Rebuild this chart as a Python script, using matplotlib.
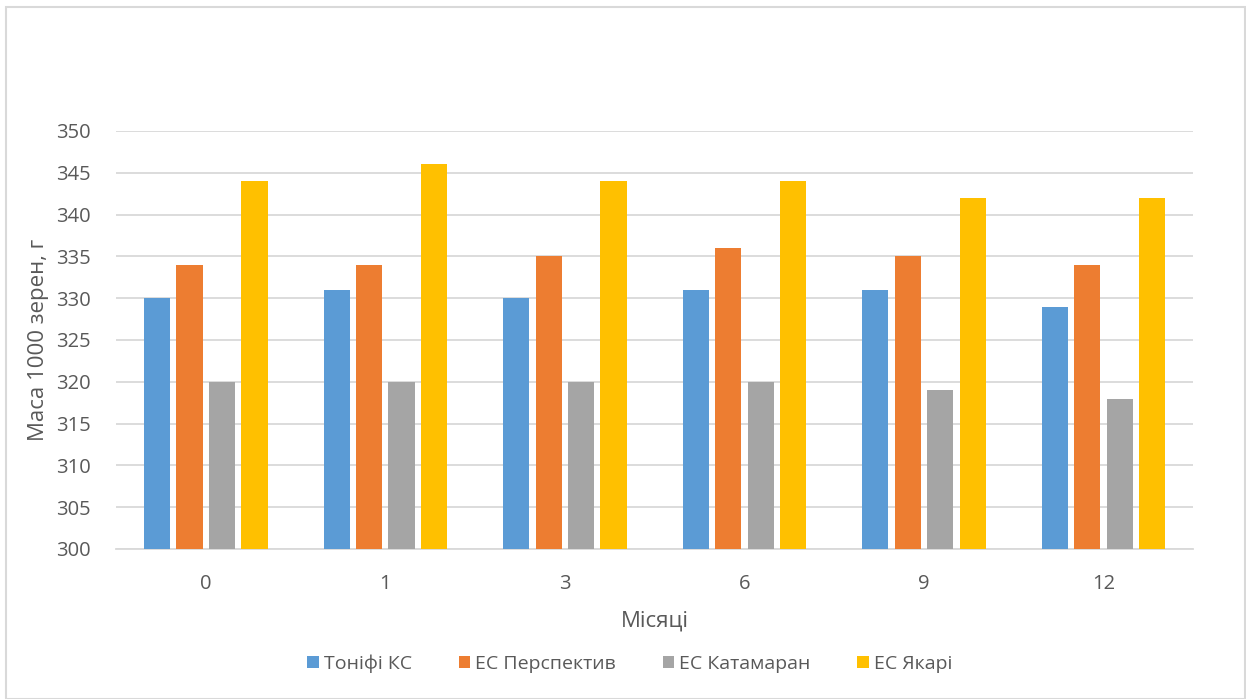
import matplotlib.pyplot as plt
import numpy as np
from matplotlib.patches import Rectangle

plt.rcParams['font.family'] = ['Open Sans', 'DejaVu Sans']

months = ['0', '1', '3', '6', '9', '12']
series_names = ['Тоніфі КС', 'ЕС Перспектив', 'ЕС Катамаран', 'ЕС Якарі']
tonifi = [330, 331, 330, 331, 331, 329]
perspektyv = [334, 334, 335, 336, 335, 334]
katamaran = [320, 320, 320, 320, 319, 318]
yakari = [344, 346, 344, 344, 342, 342]
colors = ['#5B9BD5', '#ED7D31', '#A5A5A5', '#FFC000']

text_color = '#595959'

fig = plt.figure(figsize=(12.46, 6.99), dpi=100)
ax = fig.add_axes([0.0931, 0.2146, 0.8644, 0.598])

x = np.arange(len(months))
step = 0.181
width = 0.145
for i, (vals, name, c) in enumerate(zip([tonifi, perspektyv, katamaran, yakari], series_names, colors)):
    ax.bar(x + (i - 1.5) * step, np.array(vals) - 300, width, bottom=300, color=c, label=name, zorder=3)

ax.set_xlim(-0.5, len(months) - 0.5)
ax.set_ylim(300, 350)
ax.set_yticks(range(300, 351, 5))
ax.set_xticks(x)
ax.set_xticklabels(months)
ax.grid(axis='y', color='#D9D9D9', linewidth=1.3, zorder=0)
for s in ['top', 'right', 'left']:
    ax.spines[s].set_visible(False)
ax.spines['bottom'].set_color('#D9D9D9')
ax.spines['bottom'].set_linewidth(1.3)
ax.tick_params(axis='both', length=0, labelsize=14.5, colors=text_color)
ax.tick_params(axis='y', pad=18)
ax.tick_params(axis='x', pad=18)

ax.set_xlabel('Місяці', fontsize=16, color=text_color, labelpad=12)
ax.set_ylabel('Маса 1000 зерен, г', fontsize=16, color=text_color, labelpad=5)

ax.legend(loc='upper center', bbox_to_anchor=(0.477, -0.21), ncol=4, frameon=False,
          fontsize=14, labelcolor=text_color, handlelength=0.6, handleheight=0.6,
          handletextpad=0.25, columnspacing=2.4)

fig.patches.append(Rectangle((6 / 1246, 0.5 / 699), 1239 / 1246, 692 / 699,
                             transform=fig.transFigure, fill=False,
                             edgecolor='#D9D9D9', linewidth=1.5))

fig.savefig('out.png', dpi=100)
